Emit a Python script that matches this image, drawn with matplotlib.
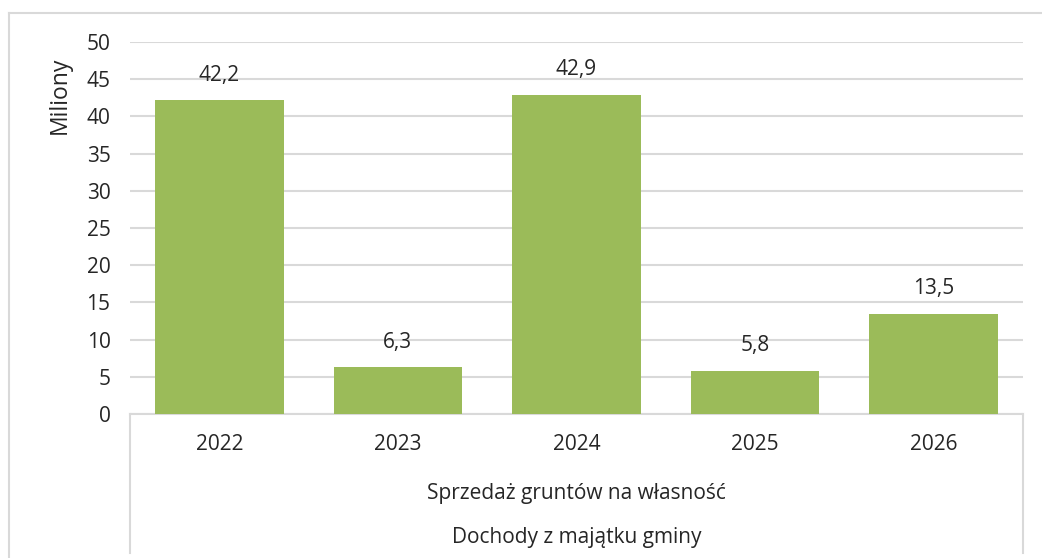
import matplotlib.pyplot as plt
from matplotlib.lines import Line2D

# data
years = ["2022", "2023", "2024", "2025", "2026"]
values = [42.2, 6.3, 42.9, 5.8, 13.5]
value_labels = ["42,2", "6,3", "42,9", "5,8", "13,5"]
group_label = "Sprzedaż gruntów na własność"
outer_label = "Dochody z majątku gminy"

bar_color = "#9BBB59"
grid_color = "#D9D9D9"
text_color = "#262626"
fs = 15

plt.rcParams['font.family'] = ['Open Sans', 'DejaVu Sans']

fig = plt.figure(figsize=(10.42, 5.58), dpi=100)
ax = fig.add_axes([130 / 1042, 1 - 414 / 558, 893 / 1042, 372 / 558])

x = list(range(len(years)))
ax.bar(x, values, width=0.72, color=bar_color, zorder=3)
for xi, v, lab in zip(x, values, value_labels):
    ax.annotate(lab, (xi, v), xytext=(0, 18), textcoords='offset points',
                ha='center', va='center', fontsize=fs, color=text_color)

ax.set_xlim(-0.5, len(years) - 0.5)
ax.set_ylim(0, 50)
ax.set_yticks(range(0, 51, 5))
ax.yaxis.grid(True, color=grid_color, linewidth=1.5, zorder=0)
ax.tick_params(axis='y', length=0, labelsize=fs, labelcolor=text_color, pad=14)
ax.set_xticks([])
for s in ['top', 'right', 'left']:
    ax.spines[s].set_visible(False)
ax.spines['bottom'].set_color(grid_color)
ax.spines['bottom'].set_linewidth(1.5)
ax.set_ylabel("Miliony", fontsize=16.5, color=text_color, va='center')
ax.yaxis.set_label_coords(-70 / 893, (414 - 95) / 372)

# category labels below the axis (multi-level)
for xi, yr in zip(x, years):
    ax.text(xi, -31 / 372, yr, transform=ax.get_xaxis_transform(), ha='center', va='center',
            fontsize=fs, color=text_color)
ax.text(0.5, -79 / 372, group_label, transform=ax.transAxes, ha='center', va='center',
        fontsize=fs, color=text_color)
ax.text(0.5, -123 / 372, outer_label, transform=ax.transAxes, ha='center', va='center',
        fontsize=fs, color=text_color)

# vertical borders of the category area
for px in (130, 1023):
    fig.add_artist(Line2D([px / 1042, px / 1042], [1 - 414 / 558, 1 - 553 / 558],
                          color=grid_color, linewidth=1.5))

# outer chart frame (cropped)
fig.add_artist(Line2D([9 / 1042, 9 / 1042], [0, 1 - 13 / 558], color=grid_color, linewidth=1.5))
fig.add_artist(Line2D([9 / 1042, 1], [1 - 13 / 558, 1 - 13 / 558], color=grid_color, linewidth=1.5))

fig.savefig("out.png", dpi=100)
